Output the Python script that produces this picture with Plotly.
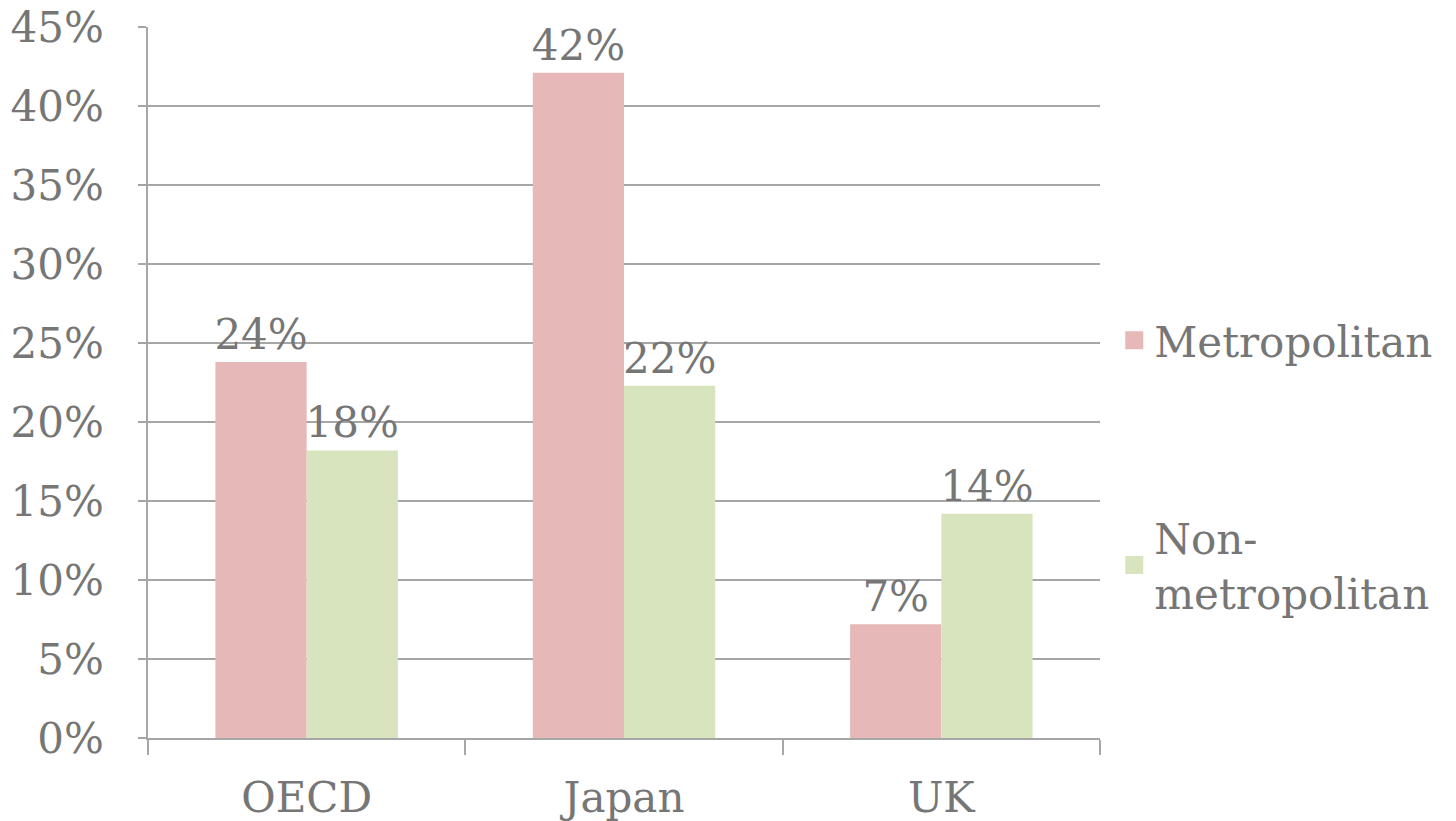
import plotly.graph_objects as go

categories = ["OECD", "Japan", "UK"]
metro = [23.8, 42.1, 7.2]
nonmetro = [18.2, 22.3, 14.2]
series_names = ["Metropolitan", "Non-<br>metropolitan"]
colors = ["#e6b8b7", "#d7e4bd"]
y_ticks = [0, 5, 10, 15, 20, 25, 30, 35, 40, 45]

FONT = "DejaVu Serif, Liberation Serif, serif"
GRAY = "#767676"
LINE = "#a6a6a6"
FS = 42

fig = go.Figure()
for name, vals, col, grp in zip(series_names, [metro, nonmetro], colors, ["a", "b"]):
    fig.add_trace(go.Bar(
        x=categories, y=vals, name=name, marker=dict(color=col, line=dict(width=0)),
        texttemplate="%{y:.0f}%", textposition="outside", constraintext="none",
        cliponaxis=False, textfont=dict(family=FONT, size=FS, color=GRAY),
        showlegend=False,
    ))
    fig.add_trace(go.Scatter(
        x=[None], y=[None], mode="markers", name=name, legendgroup=grp,
        marker=dict(symbol="square", size=16, color=col, line=dict(width=2, color=col)),
    ))

fig.update_layout(
    width=1456, height=821,
    margin=dict(l=140, r=364, t=19, b=91, autoexpand=False),
    paper_bgcolor="white", plot_bgcolor="white",
    barmode="group", bargap=0.425, bargroupgap=0,
    font=dict(family=FONT, size=FS, color=GRAY),
    legend=dict(x=1.015, xanchor="left", y=0.607, yanchor="top",
                font=dict(family=FONT, size=FS, color=GRAY),
                tracegroupgap=140, itemwidth=30, bgcolor="rgba(0,0,0,0)"),
    showlegend=True,
)
fig.update_xaxes(
    showline=True, linecolor=LINE, linewidth=1.5, automargin=False,
    ticks="outside", ticklen=15, tickcolor=LINE, tickwidth=1.5,
    tickson="boundaries", ticklabelstandoff=22, ticklabeloverflow="allow",
    showgrid=False, tickfont=dict(family=FONT, size=FS, color=GRAY),
)
fig.update_yaxes(
    range=[0, 45], tickvals=y_ticks, ticktext=[f"{v}%" for v in y_ticks],
    showline=True, linecolor=LINE, linewidth=1.5, automargin=False,
    ticks="outside", ticklen=8, tickcolor=LINE, tickwidth=1.5,
    showgrid=True, gridcolor=LINE, gridwidth=1.5,
    ticklabelstandoff=26, ticklabeloverflow="allow", zeroline=False,
    tickfont=dict(family=FONT, size=FS, color=GRAY),
)

fig.write_html("out.html")
